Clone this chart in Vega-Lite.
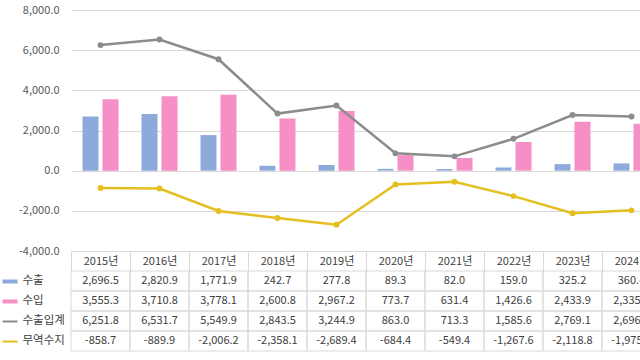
{
  "$schema": "https://vega.github.io/schema/vega-lite/v6.json",
  "padding": {"top": 4, "left": 0, "right": 0, "bottom": 0},
  "background": "white",
  "config": {
    "view": {"stroke": null},
    "font": "Noto Sans CJK KR",
    "locale": {"number": {"decimal": ".", "thousands": ",", "grouping": [3], "currency": ["", ""], "minus": "-"}}
  },
  "datasets": {
    "d": [
      {"year": "2015", "series": "수출", "value": 2696.5},
      {"year": "2015", "series": "수입", "value": 3555.3},
      {"year": "2015", "series": "수출입계", "value": 6251.8},
      {"year": "2015", "series": "무역수지", "value": -858.7},
      {"year": "2016", "series": "수출", "value": 2820.9},
      {"year": "2016", "series": "수입", "value": 3710.8},
      {"year": "2016", "series": "수출입계", "value": 6531.7},
      {"year": "2016", "series": "무역수지", "value": -889.9},
      {"year": "2017", "series": "수출", "value": 1771.9},
      {"year": "2017", "series": "수입", "value": 3778.1},
      {"year": "2017", "series": "수출입계", "value": 5549.9},
      {"year": "2017", "series": "무역수지", "value": -2006.2},
      {"year": "2018", "series": "수출", "value": 242.7},
      {"year": "2018", "series": "수입", "value": 2600.8},
      {"year": "2018", "series": "수출입계", "value": 2843.5},
      {"year": "2018", "series": "무역수지", "value": -2358.1},
      {"year": "2019", "series": "수출", "value": 277.8},
      {"year": "2019", "series": "수입", "value": 2967.2},
      {"year": "2019", "series": "수출입계", "value": 3244.9},
      {"year": "2019", "series": "무역수지", "value": -2689.4},
      {"year": "2020", "series": "수출", "value": 89.3},
      {"year": "2020", "series": "수입", "value": 773.7},
      {"year": "2020", "series": "수출입계", "value": 863.0},
      {"year": "2020", "series": "무역수지", "value": -684.4},
      {"year": "2021", "series": "수출", "value": 82.0},
      {"year": "2021", "series": "수입", "value": 631.4},
      {"year": "2021", "series": "수출입계", "value": 713.3},
      {"year": "2021", "series": "무역수지", "value": -549.4},
      {"year": "2022", "series": "수출", "value": 159.0},
      {"year": "2022", "series": "수입", "value": 1426.6},
      {"year": "2022", "series": "수출입계", "value": 1585.6},
      {"year": "2022", "series": "무역수지", "value": -1267.6},
      {"year": "2023", "series": "수출", "value": 325.2},
      {"year": "2023", "series": "수입", "value": 2433.9},
      {"year": "2023", "series": "수출입계", "value": 2769.1},
      {"year": "2023", "series": "무역수지", "value": -2118.8},
      {"year": "2024", "series": "수출", "value": 360.4},
      {"year": "2024", "series": "수입", "value": 2335.9},
      {"year": "2024", "series": "수출입계", "value": 2696.3},
      {"year": "2024", "series": "무역수지", "value": -1975.5}
    ]
  },
  "bounds": "flush",
  "spacing": 20,
  "vconcat": [
    {
      "width": 571,
      "height": 241,
      "data": {"name": "d"},
      "layer": [
        {
          "transform": [{"filter": {"field": "series", "oneOf": ["수출", "수입"]}}],
          "mark": {"type": "bar"},
          "encoding": {
            "x": {"field": "year", "type": "nominal", "scale": {"range": [0, 590], "paddingInner": 0.39, "paddingOuter": 0.195}, "axis": null},
            "xOffset": {"field": "series", "type": "nominal", "scale": {"domain": ["수출", "수입"], "paddingInner": 0.2}},
            "y": {"field": "value", "type": "quantitative", "scale": {"domain": [-4000, 8000]},
              "axis": {"values": [-4000, -2000, 0, 2000, 4000, 6000, 8000], "format": ",.1f", "title": null, "domain": false, "ticks": false, "labelPadding": 12, "labelColor": "#595959", "labelFontSize": 11, "gridColor": "#d9d9d9"}},
            "color": {"field": "series", "type": "nominal", "scale": {"domain": ["수출", "수입", "수출입계", "무역수지"], "range": ["#8eaadb", "#f58fc6", "#8c8c8c", "#e5bf1f"]}, "legend": null}
          }
        },
        {
          "transform": [{"filter": {"field": "series", "oneOf": ["수출입계", "무역수지"]}}],
          "mark": {"type": "line", "strokeWidth": 2.5, "point": {"size": 35, "filled": true}},
          "encoding": {
            "x": {"field": "year", "type": "nominal", "scale": {"range": [0, 590], "paddingInner": 0.39, "paddingOuter": 0.195}, "axis": null},
            "y": {"field": "value", "type": "quantitative"},
            "color": {"field": "series", "type": "nominal", "legend": null}
          }
        }
      ]
    },
    {
      "width": 571,
      "height": 80,
      "data": {"name": "d"},
      "encoding": {
        "x": {"field": "year", "type": "nominal", "scale": {"range": [0, 590], "paddingInner": 0, "paddingOuter": 0},
          "axis": {"orient": "top", "title": null, "labelExpr": "datum.label ? datum.label + '년' : ''", "tickBand": "extent", "tickSize": 20, "tickColor": "#d9d9d9", "domain": false, "grid": false, "labelPadding": -15, "labelFontSize": 11, "labelColor": "#404040", "labelAngle": 0}},
        "y": {"field": "series", "type": "nominal", "scale": {"domain": ["수출", "수입", "수출입계", "무역수지"], "paddingInner": 0, "paddingOuter": 0},
          "axis": {"orient": "left", "title": null, "offset": 54, "tickSize": 15,
            "tickColor": {"condition": [{"test": "datum.value === '수출'", "value": "#8eaadb"}, {"test": "datum.value === '수입'", "value": "#f58fc6"}, {"test": "datum.value === '수출입계'", "value": "#8c8c8c"}], "value": "#e5bf1f"},
            "tickWidth": {"condition": {"test": "datum.value === '수출' || datum.value === '수입'", "value": 4}, "value": 2},
            "labelAlign": "left", "labelPadding": -20, "labelFontSize": 11.5, "labelColor": "#404040", "domain": false, "grid": false}}
      },
      "layer": [
        {"mark": {"type": "rect", "fillOpacity": 0, "stroke": "#d9d9d9", "strokeWidth": 1}},
        {"mark": {"type": "text", "fontSize": 11, "color": "#404040"},
          "encoding": {"text": {"field": "value", "type": "quantitative", "format": ",.1f"}}}
      ]
    }
  ]
}
